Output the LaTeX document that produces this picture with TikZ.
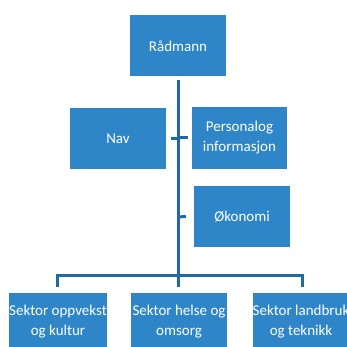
\documentclass[tikz,border=0pt]{standalone}
\usepackage{fontspec}
\setmainfont{Carlito}
\definecolor{boxblue}{HTML}{2E86C8}
\definecolor{lineblue}{HTML}{1F6AA5}
\begin{document}
\begin{tikzpicture}[x=1pt,y=1pt,
  orgbox/.style={fill=boxblue,text=white,minimum width=96pt,minimum height=61pt,inner sep=0pt,align=center,font=\fontsize{15}{20}\selectfont},
  conn/.style={draw=lineblue,line width=3pt}]
\useasboundingbox (0,0) rectangle (347,347);
\node[orgbox] (rad) at (178,301) {Rådmann};
\node[orgbox] (nav) at (118,208.5) {Nav};
\node[orgbox,minimum width=95pt,minimum height=62pt] (pers) at (239.5,209) {Personalog\\informasjon};
\node[orgbox] (oko) at (242,130.5) {Økonomi};
\node[orgbox,minimum height=58pt] (s1) at (58,25) {Sektor oppvekst\\og kultur};
\node[orgbox,minimum height=58pt] (s2) at (179,25) {Sektor helse og\\omsorg};
\node[orgbox,minimum height=58pt] (s3) at (301,25) {Sektor landbruk\\og teknikk};
\coordinate (top) at (178,267);
\coordinate (bus) at (178,71);
\coordinate (j1) at (57,71);
\coordinate (j3) at (302,71);
\draw[conn] (top) -- (bus);
\draw[conn] (nav.east) ++(5,0) -- (178,208.5 |- nav.east);
\draw[conn] (178,209) -- ([xshift=-4pt]pers.west);
\draw[conn] (178,130) -- ([xshift=-8pt]oko.west);
\draw[conn,line cap=butt] (j1 |- s1.north) ++(0,6) -- (j1) -- (j3) -- ([yshift=6pt]j3 |- s3.north);
\draw[conn] (bus) -- ([yshift=6pt]bus |- s2.north);
\end{tikzpicture}
\end{document}
